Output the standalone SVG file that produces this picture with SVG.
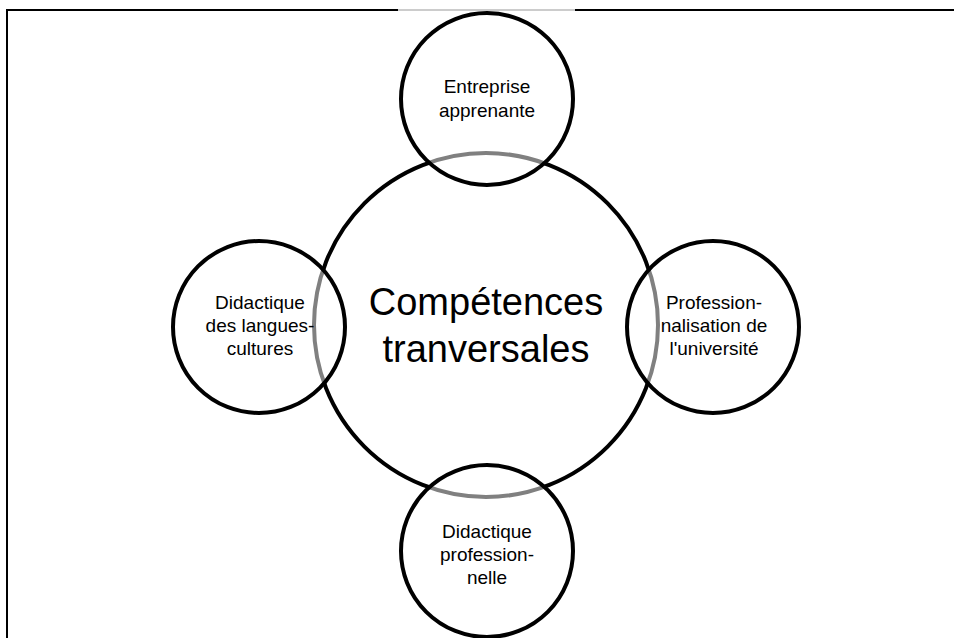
<svg xmlns="http://www.w3.org/2000/svg" width="954" height="638" viewBox="0 0 954 638">
<style>
.bg{fill:#ffffff}
.frame{stroke:#000000;stroke-width:2;fill:none}
.big{fill:#ffffff;stroke:#000000;stroke-width:4}
.sat{fill:#ffffff;fill-opacity:0.5;stroke:#000000;stroke-width:4}
.t{font-family:"Liberation Sans",Arial,sans-serif;font-size:19px;fill:#000000;text-anchor:middle}
.tb{font-family:"Liberation Sans",Arial,sans-serif;font-size:38px;fill:#000000;text-anchor:middle}
</style>
<rect class="bg" x="0" y="0" width="954" height="638"/>
<g id="frame">
<line class="frame" x1="7" y1="9" x2="7" y2="638"/>
<line class="frame" x1="6" y1="10" x2="398" y2="10"/>
<line class="frame" x1="575" y1="10" x2="954" y2="10"/>
<line x1="398" y1="10" x2="575" y2="10" stroke="#999999" stroke-width="1.2"/>
</g>
<g id="center">
<circle class="big" cx="486" cy="325" r="172"/>
<text class="tb" x="486" y="315">Compétences</text>
<text class="tb" x="486" y="362">tranversales</text>
</g>
<g id="connectors"></g>
<g id="top">
<circle class="sat" cx="487" cy="99" r="86"/>
<text class="t" x="487" y="93">Entreprise</text>
<text class="t" x="487" y="117">apprenante</text>
</g>
<g id="left">
<circle class="sat" cx="259" cy="327" r="86"/>
<text class="t" x="260" y="309">Didactique</text>
<text class="t" x="260" y="332">des langues-</text>
<text class="t" x="260" y="355">cultures</text>
</g>
<g id="right">
<circle class="sat" cx="713" cy="327" r="86"/>
<text class="t" x="714" y="309">Profession-</text>
<text class="t" x="714" y="332">nalisation de</text>
<text class="t" x="714" y="355">l'université</text>
</g>
<g id="bottom">
<circle class="sat" cx="487" cy="551" r="86"/>
<text class="t" x="487" y="538">Didactique</text>
<text class="t" x="487" y="561">profession-</text>
<text class="t" x="487" y="584">nelle</text>
</g>
</svg>
